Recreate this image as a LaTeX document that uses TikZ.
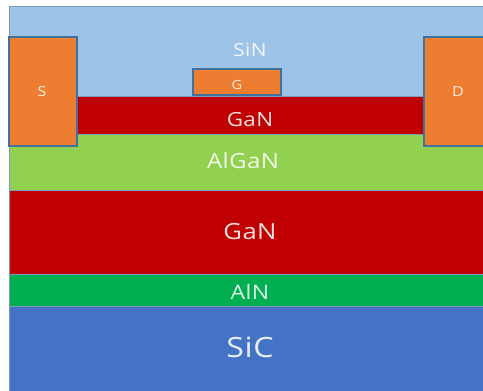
\documentclass[tikz,border=0pt]{standalone}
\usepackage{fontspec}
\setmainfont{Open Sans}[FakeStretch=1.15, LetterSpace=2]
\usepackage{tikz}

\definecolor{sinblue}{HTML}{9DC3E6}
\definecolor{ganred}{HTML}{C00000}
\definecolor{alganlime}{HTML}{92D050}
\definecolor{alngreen}{HTML}{00B050}
\definecolor{sicblue}{HTML}{4472C4}
\definecolor{metal}{HTML}{ED7D31}
\definecolor{rim}{HTML}{41719C}

\tikzset{
  layer/.style={fill=#1, draw=rim!70, line width=0.4pt},
  contact/.style={fill=metal, draw=rim, line width=0.7pt},
  lbl/.style={text=white, text opacity=0.88, inner sep=0pt,
    font=\fontsize{#1}{#1}\selectfont},
}

\begin{document}
\begin{tikzpicture}[x=0.02cm, y=-0.02cm]
  \useasboundingbox (0,0) rectangle (483,391);
  \clip (0,0) rectangle (483,391);

  % stack, top to bottom
  \draw[layer=sinblue]   (9,6)   rectangle (495,96);
  \draw[layer=ganred]    (9,96)  rectangle (495,134);
  \draw[layer=alganlime] (9,134) rectangle (495,190);
  \draw[layer=ganred]    (9,190) rectangle (495,274);
  \draw[layer=alngreen]  (9,274) rectangle (495,306);
  \draw[layer=sicblue]   (9,306) rectangle (495,400);

  % source, gate, drain
  \draw[contact] (9,37)   rectangle (77,146);
  \draw[contact] (193,69) rectangle (281,95);
  \draw[contact] (424,37) rectangle (495,146);

  \node[lbl=10.3] (sin)   at (250,50)  {SiN};
  \node[lbl=7.2]  (gate)  at (237,85)  {G};
  \node[lbl=11.1] (gan1)  at (250,120) {GaN};
  \node[lbl=11.9] (algan) at (243,161) {AlGaN};
  \node[lbl=12.7] (gan2)  at (250,232) {GaN};
  \node[lbl=11.4] (aln)   at (250,292) {AlN};
  \node[lbl=15.9] (sic)   at (250,347) {SiC};
  \node[lbl=7.9]  (src)   at (42,92)   {S};
  \node[lbl=7.9]  (drn)   at (458,92)  {D};
\end{tikzpicture}
\end{document}
